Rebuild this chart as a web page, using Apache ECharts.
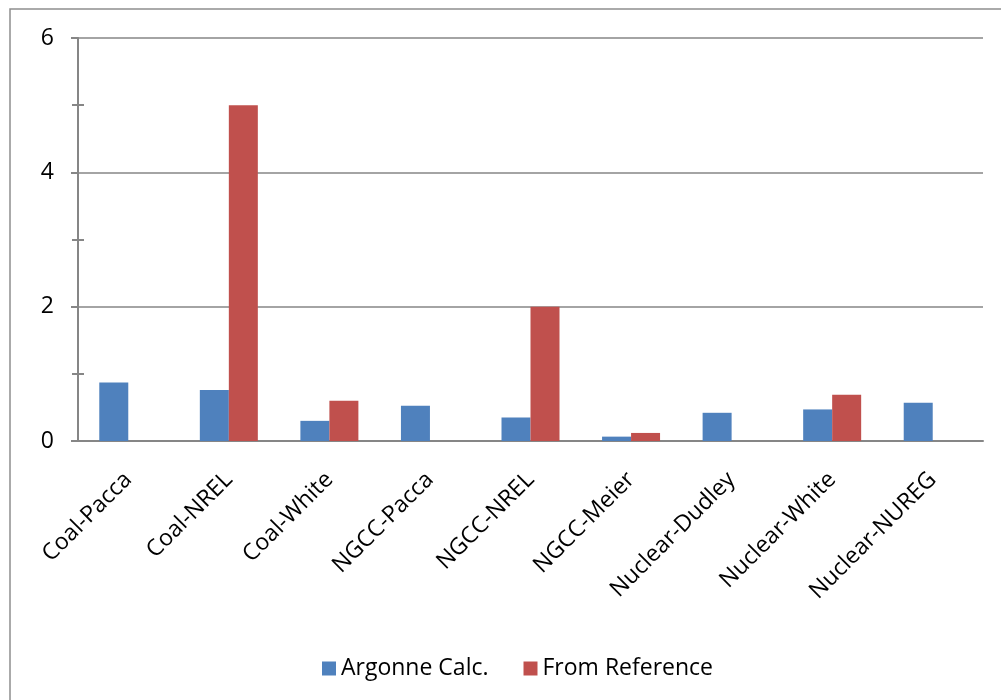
<!DOCTYPE html>
<html>
<head>
<meta charset="utf-8">
<script src="https://cdn.jsdelivr.net/npm/echarts@6/dist/echarts.min.js"></script>
<style>html,body{margin:0;padding:0;background:#fff}#c{width:1001px;height:700px}</style>
</head>
<body>
<div id="c"></div>
<script>
const categories = ["Coal-Pacca","Coal-NREL","Coal-White","NGCC-Pacca","NGCC-NREL","NGCC-Meier","Nuclear-Dudley","Nuclear-White","Nuclear-NUREG"];
const argonneCalc = [0.87, 0.76, 0.30, 0.525, 0.35, 0.065, 0.42, 0.47, 0.57];
const fromReference = [null, 5.0, 0.60, null, 2.0, 0.12, null, 0.69, null];
const seriesNames = ["Argonne Calc.", "From Reference"];

const FONT = "Open Sans";
const GRAY = "#868686";
const chart = echarts.init(document.getElementById('c'), null, {renderer:'canvas'});
chart.setOption({
  backgroundColor: '#fff',
  animation: false,
  graphic: [{
    type: 'rect', z: -10, silent: true,
    shape: {x: 10, y: 9, width: 1200, height: 1000},
    style: {fill: 'none', stroke: '#8e8e8e', lineWidth: 1.5}
  }],
  grid: {left: 78, right: 18, top: 38, bottom: 259, containLabel: false},
  legend: {
    left: 317, top: 652,
    itemWidth: 14, itemHeight: 14, itemGap: 35,
    icon: 'rect',
    textStyle: {fontFamily: FONT, fontSize: 23, color: '#000'},
    data: seriesNames
  },
  xAxis: {
    type: 'category',
    data: categories,
    axisLine: {lineStyle: {color: GRAY, width: 2}},
    axisTick: {show: false},
    axisLabel: {rotate: 45, margin: 35, interval: 0, fontFamily: FONT, fontSize: 23, color: '#000'}
  },
  yAxis: [{
    type: 'value', min: 0, max: 6, interval: 2,
    axisLine: {show: true, lineStyle: {color: GRAY, width: 2}},
    axisTick: {show: true, length: 7, lineStyle: {color: GRAY, width: 2}},
    axisLabel: {margin: 24, fontFamily: FONT, fontSize: 23, color: '#000'},
    splitLine: {lineStyle: {color: GRAY, width: 1.5}}
  }, {
    type: 'value', min: 0, max: 6, interval: 2, position: 'left', offset: -6,
    axisLine: {show: false},
    axisTick: {show: false},
    axisLabel: {show: false},
    splitLine: {show: false},
    minorTick: {show: true, splitNumber: 2, length: 12, lineStyle: {color: GRAY, width: 2}}
  }],
  series: [{
    name: seriesNames[0], type: 'bar', data: argonneCalc,
    itemStyle: {color: '#4F81BD'},
    barWidth: 29, barGap: '0%'
  }, {
    name: seriesNames[1], type: 'bar', data: fromReference,
    itemStyle: {color: '#C0504D'},
    barWidth: 29, barGap: '0%'
  }]
});
</script>
</body>
</html>
